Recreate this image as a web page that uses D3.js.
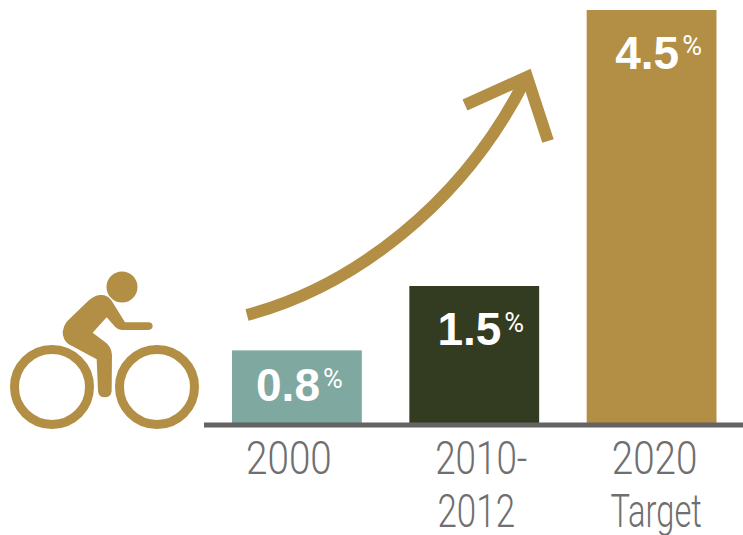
<!DOCTYPE html>
<html><head><meta charset="utf-8">
<script src="https://cdn.jsdelivr.net/npm/d3@7/dist/d3.min.js"></script>
<style>html,body{margin:0;padding:0;background:#fff}svg{display:block}</style>
</head><body><svg id="c" width="743" height="535"></svg>
<script>
const categories = ["2000", "2010-2012", "2020 Target"];
const values = [0.8, 1.5, 4.5];
const valueLabels = ["0.8", "1.5", "4.5"];
const tickLines = [["2000"], ["2010-", "2012"], ["2020", "Target"]];

const GOLD = "#b28f45", TEAL = "#7fa8a0", DARK = "#333c20", AXIS = "#636363", TICK = "#6f6f6f";
const barColors = [TEAL, DARK, GOLD];

const svg = d3.select("#c");
const x = d3.scaleBand().domain(categories).range([232, 716.5]).paddingInner(0.268).paddingOuter(0);
const y = d3.scaleLinear().domain([0, 4.5]).range([424, 10]);

// bars
svg.selectAll("rect.bar").data(values).join("rect").attr("class", "bar")
  .attr("x", (d, i) => x(categories[i])).attr("width", x.bandwidth())
  .attr("y", d => y(d)).attr("height", d => y(0) - y(d))
  .attr("fill", (d, i) => barColors[i]);

// baseline
svg.append("rect").attr("x", 204).attr("y", 422.5).attr("width", 539).attr("height", 5).attr("fill", AXIS);

// category labels through an axis
const tickShift = [[-8], [7, 2], [3, 4.5]];
const tickSquash = [[0.84], [0.8, 0.76], [0.84, 0.71]];
const axis = svg.append("g").attr("transform", "translate(0,424)")
  .call(d3.axisBottom(x).tickSize(0).tickFormat(""));
axis.select(".domain").remove();
axis.selectAll(".tick text").remove();
axis.selectAll(".tick").each(function (d, i) {
  const g = d3.select(this);
  tickLines[i].forEach((s, j) =>
    g.append("text").attr("text-anchor", "middle").attr("fill", TICK)
      .attr("transform", `translate(${tickShift[i][j]},${50 + j * 53}) scale(${tickSquash[i][j]},1)`)
      .style("font-family", "Roboto").style("font-weight", 300).style("font-size", "46px").text(s));
});

// value labels
const labelOffsets = [2.5, 6.5, 7], labelDrops = [51, 59, 58.5];
svg.selectAll("text.val").data(values).join("text").attr("class", "val")
  .attr("text-anchor", "middle")
  .attr("x", (d, i) => x(categories[i]) + x.bandwidth() / 2 + labelOffsets[i])
  .attr("y", (d, i) => y(d) + labelDrops[i])
  .attr("fill", "#fff").style("font-family", "'Liberation Sans'").each(function (d, i) {
    const t = d3.select(this);
    t.append("tspan").style("font-size", "46px").style("font-weight", "700").text(valueLabels[i]);
    t.append("tspan").attr("dy", -13.5).attr("dx", 3).style("font-size", "27px").style("font-family", "Roboto").style("font-weight", 400).text("%");
  });

// rising arrow
const arrow = svg.append("g").attr("fill", "none").attr("stroke", GOLD).attr("stroke-width", 12);
arrow.append("path").attr("d", "M247,315 C352,287 462,205 525,80");
arrow.append("path").attr("d", "M465,105 L527,77 L548,141").attr("stroke-linejoin", "miter");

// cyclist icon
const icon = svg.append("g");
[[52, 387], [157, 387]].forEach(c =>
  icon.append("circle").attr("cx", c[0]).attr("cy", c[1]).attr("r", 37.5)
    .attr("fill", "none").attr("stroke", GOLD).attr("stroke-width", 9));
icon.append("circle").attr("cx", 122).attr("cy", 287).attr("r", 15.5).attr("fill", GOLD);
icon.append("path").attr("fill", GOLD).attr("transform", "translate(0,260) scale(0.3333)")
  .attr("d", "M300,105 Q322,103 335,122 L375,187 L445,187 Q458,188 458,198 Q458,209 445,210 L365,210 Q352,208 345,200 L320,172 L278,218 L318,248 Q335,262 336,285 L335,393 Q333,412 314,412 Q296,412 294,393 L290,298 L205,252 Q188,238 188,215 Q190,198 200,185 L265,122 Q282,107 300,105 Z");
</script></body></html>
